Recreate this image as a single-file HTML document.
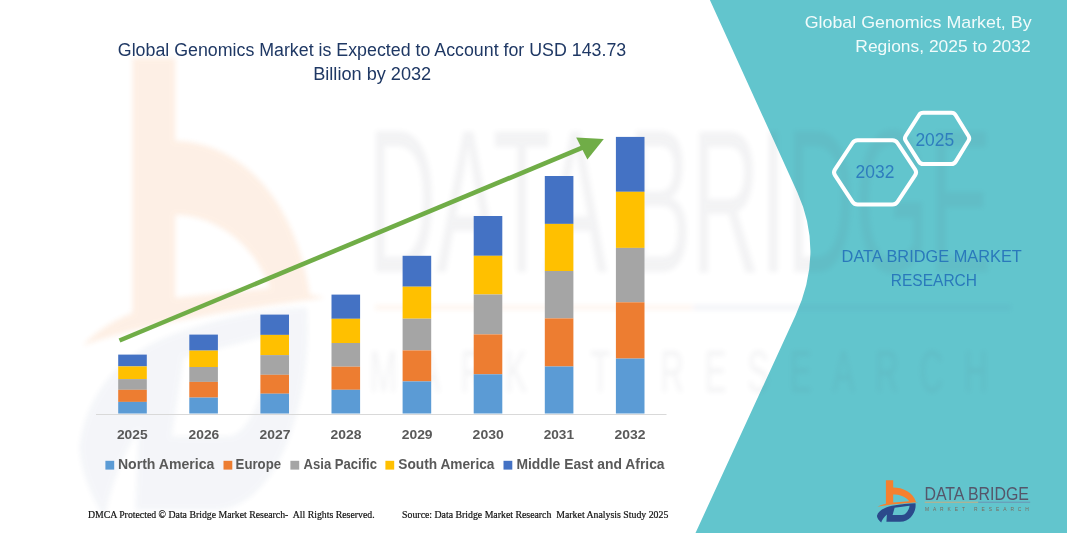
<!DOCTYPE html>
<html lang="en">
<head>
<meta charset="utf-8">
<title>Global Genomics Market</title>
<style>
html,body{margin:0;padding:0;background:#fff;}
body{width:1067px;height:533px;overflow:hidden;font-family:"Liberation Sans",sans-serif;}
svg{display:block;}
text{font-family:"Liberation Sans",sans-serif;}
.serif text, text.serif{font-family:"Liberation Serif",serif;}
</style>
</head>
<body>
<svg width="1067" height="533" viewBox="0 0 1067 533">
<defs>
  <path id="logo-b" fill="#F5802E" fill-rule="evenodd" d="M9.9,0.3 L17.2,0.3 L17.2,7.4 C26.5,7.5 37,11.5 40,22 L42.6,22.3 C30,23.2 12,24.6 1.5,26.7 C4,25.2 7,24.3 9.9,23.7 Z M17.2,14.4 C22.5,14.4 30,16.3 33.2,21.2 L17.2,22.5 Z"/>
  <path id="logo-bw" fill="#F47B20" fill-rule="evenodd" d="M9.9,0.3 L17.2,0.3 L17.2,7.9 C26.5,8 37,12 40,22 L42.6,22.3 C30,23.2 12,24.6 1.5,26.7 C4,25.2 7,24.3 9.9,23.7 Z M17.2,14.7 C22.5,14.7 30,16.6 33.2,21.4 L17.2,22.3 Z"/>
  <path id="logo-d" fill="#2B4A8B" fill-rule="evenodd" d="M0.9,36 C2,31 8,27.5 16,25.8 C25,24 33,23.3 39.5,23.2 C40.5,30 36,41.5 24,41.8 L10.4,41.8 L10.9,34.5 C8,37 6,40 5.2,42.6 C3,40.5 1.2,38.5 0.9,36 Z M18.6,27.8 L33.6,25.7 C33,30 30,35 26,35 L16.6,35 Z"/>
  <g id="logo-text">
    <text x="48.4" y="19.6" font-size="19" textLength="104.6" lengthAdjust="spacingAndGlyphs" fill="#55566a">DATA BRIDGE</text>
    <rect x="48.7" y="21.8" width="53.5" height="0.7" fill="#F4A460"/>
    <rect x="102.2" y="21.8" width="52" height="0.7" fill="#6f7fa8"/>
    <text x="48.9" y="31" font-size="4.9" textLength="104" lengthAdjust="spacing" fill="#7a6a5e">MARKET RESEARCH</text>
  </g>
  <filter id="wmblur" x="-5%" y="-5%" width="110%" height="110%"><feGaussianBlur stdDeviation="2.6"/></filter>
</defs>

<rect width="1067" height="533" fill="#ffffff"/>

<!-- teal panel -->
<path d="M709.9,0 L797.2,192 Q824.6,252.3 795.3,316 L695.5,533 L1067,533 L1067,0 Z" fill="#62C5CD"/>

<!-- watermark -->
<g opacity="0.115" filter="url(#wmblur)">
  <g transform="translate(74,54.7) scale(5.9,10.9)"><use href="#logo-bw"/></g>
</g>
<g opacity="0.048" filter="url(#wmblur)">
  <g transform="translate(74,54.7) scale(5.9,10.9)"><use href="#logo-d"/></g>
</g>
<g opacity="0.065" filter="url(#wmblur)">
  <g transform="translate(368,272) scale(6,10.7)">
    <text x="0" y="0" font-size="19" textLength="104" lengthAdjust="spacingAndGlyphs" fill="#55566a">DATA BRIDGE</text>
    <text x="0.3" y="11.2" font-size="5.5" textLength="103" lengthAdjust="spacing" fill="#55566a">MARKET RESEARCH</text>
  </g>
  <rect x="375" y="305" width="318" height="5" fill="#F47B20"/>
  <rect x="693" y="305" width="318" height="5" fill="#4a5f9a"/>
</g>

<!-- chart -->
<rect x="96" y="414" width="570.5" height="1" fill="#D9D9D9"/>
<rect x="118.2" y="354.6" width="28.6" height="11.8" fill="#4472C4"/>
<rect x="118.2" y="366.4" width="28.6" height="12.7" fill="#FFC000"/>
<rect x="118.2" y="379.1" width="28.6" height="10.7" fill="#A5A5A5"/>
<rect x="118.2" y="389.8" width="28.6" height="12.1" fill="#ED7D31"/>
<rect x="118.2" y="401.9" width="28.6" height="11.6" fill="#5B9BD5"/>
<rect x="189.3" y="334.6" width="28.6" height="16.0" fill="#4472C4"/>
<rect x="189.3" y="350.6" width="28.6" height="16.4" fill="#FFC000"/>
<rect x="189.3" y="367.0" width="28.6" height="14.9" fill="#A5A5A5"/>
<rect x="189.3" y="381.9" width="28.6" height="15.7" fill="#ED7D31"/>
<rect x="189.3" y="397.6" width="28.6" height="15.9" fill="#5B9BD5"/>
<rect x="260.4" y="314.6" width="28.6" height="20.3" fill="#4472C4"/>
<rect x="260.4" y="334.9" width="28.6" height="20.2" fill="#FFC000"/>
<rect x="260.4" y="355.1" width="28.6" height="19.7" fill="#A5A5A5"/>
<rect x="260.4" y="374.8" width="28.6" height="18.9" fill="#ED7D31"/>
<rect x="260.4" y="393.7" width="28.6" height="19.8" fill="#5B9BD5"/>
<rect x="331.5" y="294.6" width="28.6" height="24.2" fill="#4472C4"/>
<rect x="331.5" y="318.8" width="28.6" height="24.2" fill="#FFC000"/>
<rect x="331.5" y="343.0" width="28.6" height="23.7" fill="#A5A5A5"/>
<rect x="331.5" y="366.7" width="28.6" height="23.1" fill="#ED7D31"/>
<rect x="331.5" y="389.8" width="28.6" height="23.7" fill="#5B9BD5"/>
<rect x="402.6" y="255.8" width="28.6" height="30.9" fill="#4472C4"/>
<rect x="402.6" y="286.7" width="28.6" height="32.0" fill="#FFC000"/>
<rect x="402.6" y="318.7" width="28.6" height="31.7" fill="#A5A5A5"/>
<rect x="402.6" y="350.4" width="28.6" height="31.0" fill="#ED7D31"/>
<rect x="402.6" y="381.4" width="28.6" height="32.1" fill="#5B9BD5"/>
<rect x="473.7" y="216.0" width="28.6" height="39.8" fill="#4472C4"/>
<rect x="473.7" y="255.8" width="28.6" height="38.7" fill="#FFC000"/>
<rect x="473.7" y="294.5" width="28.6" height="39.9" fill="#A5A5A5"/>
<rect x="473.7" y="334.4" width="28.6" height="39.9" fill="#ED7D31"/>
<rect x="473.7" y="374.3" width="28.6" height="39.2" fill="#5B9BD5"/>
<rect x="544.8" y="176.0" width="28.6" height="47.9" fill="#4472C4"/>
<rect x="544.8" y="223.9" width="28.6" height="47.1" fill="#FFC000"/>
<rect x="544.8" y="271.0" width="28.6" height="47.4" fill="#A5A5A5"/>
<rect x="544.8" y="318.4" width="28.6" height="48.1" fill="#ED7D31"/>
<rect x="544.8" y="366.5" width="28.6" height="47.0" fill="#5B9BD5"/>
<rect x="615.9" y="136.9" width="28.6" height="54.9" fill="#4472C4"/>
<rect x="615.9" y="191.8" width="28.6" height="56.1" fill="#FFC000"/>
<rect x="615.9" y="247.9" width="28.6" height="54.4" fill="#A5A5A5"/>
<rect x="615.9" y="302.3" width="28.6" height="56.3" fill="#ED7D31"/>
<rect x="615.9" y="358.6" width="28.6" height="54.9" fill="#5B9BD5"/>
<g font-size="13.6" font-weight="bold" fill="#595959">
<text x="116.9" y="438.8" textLength="30.7" lengthAdjust="spacingAndGlyphs">2025</text>
<text x="188.6" y="438.8" textLength="30.7" lengthAdjust="spacingAndGlyphs">2026</text>
<text x="259.5" y="438.8" textLength="30.9" lengthAdjust="spacingAndGlyphs">2027</text>
<text x="330.6" y="438.8" textLength="30.9" lengthAdjust="spacingAndGlyphs">2028</text>
<text x="401.7" y="438.8" textLength="30.9" lengthAdjust="spacingAndGlyphs">2029</text>
<text x="472.6" y="438.8" textLength="31.2" lengthAdjust="spacingAndGlyphs">2030</text>
<text x="543.7" y="438.8" textLength="30.3" lengthAdjust="spacingAndGlyphs">2031</text>
<text x="614.5" y="438.8" textLength="31.0" lengthAdjust="spacingAndGlyphs">2032</text>
</g>
<g font-size="13.8" font-weight="bold" fill="#595959">
<rect x="105.4" y="460.8" width="8.8" height="8.8" fill="#5B9BD5"/>
<text x="117.9" y="469.2" textLength="96.5" lengthAdjust="spacingAndGlyphs">North America</text>
<rect x="223.5" y="460.8" width="8.8" height="8.8" fill="#ED7D31"/>
<text x="235.6" y="469.2" textLength="45.5" lengthAdjust="spacingAndGlyphs">Europe</text>
<rect x="290.4" y="460.8" width="8.8" height="8.8" fill="#A5A5A5"/>
<text x="303.6" y="469.2" textLength="73.4" lengthAdjust="spacingAndGlyphs">Asia Pacific</text>
<rect x="385.4" y="460.8" width="8.8" height="8.8" fill="#FFC000"/>
<text x="398.3" y="469.2" textLength="96.2" lengthAdjust="spacingAndGlyphs">South America</text>
<rect x="503.5" y="460.8" width="8.8" height="8.8" fill="#4472C4"/>
<text x="516.4" y="469.2" textLength="148.2" lengthAdjust="spacingAndGlyphs">Middle East and Africa</text>
</g>

<!-- trend arrow -->
<line x1="119.5" y1="340.5" x2="583" y2="147.4" stroke="#70AD47" stroke-width="4.6"/>
<polygon points="576.2,137.5 603.8,139.1 587.4,159.4" fill="#70AD47"/>

<!-- titles -->
<g font-size="17.6" fill="#1F3864">
<text x="117.8" y="55.8" textLength="508.4" lengthAdjust="spacingAndGlyphs">Global Genomics Market is Expected to Account for USD 143.73</text>
<text x="313.2" y="79.8" textLength="118" lengthAdjust="spacingAndGlyphs">Billion by 2032</text>
</g>
<g font-size="16.4" fill="#F1FBFB">
<text x="804.7" y="27.6" textLength="226.9" lengthAdjust="spacingAndGlyphs">Global Genomics Market, By</text>
<text x="855.3" y="52.2" textLength="175.4" lengthAdjust="spacingAndGlyphs">Regions, 2025 to 2032</text>
</g>

<!-- hexagons -->
<g fill="none" stroke="#ffffff" stroke-width="4" stroke-linejoin="round">
<path d="M834.9,175.1 Q833.1,172.4 834.9,169.7 L852.5,143.0 Q854.3,140.3 857.5,140.3 L892.5,140.3 Q895.7,140.3 897.5,143.0 L915.2,169.7 Q917.0,172.4 915.2,175.1 L897.5,201.8 Q895.7,204.5 892.5,204.5 L857.5,204.5 Q854.3,204.5 852.5,201.8 Z"/>
<path d="M905.7,140.8 Q904.2,138.4 905.7,136.0 L918.9,115.2 Q920.4,112.8 923.2,112.8 L951.4,112.8 Q954.2,112.8 955.7,115.2 L968.5,136.0 Q970.0,138.4 968.5,140.8 L955.7,161.6 Q954.2,164.0 951.4,164.0 L923.2,164.0 Q920.4,164.0 918.9,161.6 Z"/>
</g>
<g font-size="18.2" fill="#2E7DBE">
<text x="855.6" y="177.7" textLength="38.8" lengthAdjust="spacingAndGlyphs">2032</text>
<text x="915.4" y="145.6" textLength="38.8" lengthAdjust="spacingAndGlyphs">2025</text>
</g>

<g font-size="16.3" fill="#2A79BB">
<text x="841.6" y="262.2" textLength="180.2" lengthAdjust="spacingAndGlyphs">DATA BRIDGE MARKET</text>
<text x="890.8" y="286.2" textLength="86.2" lengthAdjust="spacingAndGlyphs">RESEARCH</text>
</g>

<!-- footer -->
<g class="serif" font-size="9.8" fill="#111111" stroke="#111111" stroke-width="0.2">
<text class="serif" x="87.9" y="517.5" textLength="286.7" lengthAdjust="spacingAndGlyphs" xml:space="preserve">DMCA Protected © Data Bridge Market Research-  All Rights Reserved.</text>
<text class="serif" x="402.1" y="517.5" textLength="266.2" lengthAdjust="spacingAndGlyphs" xml:space="preserve">Source: Data Bridge Market Research  Market Analysis Study 2025</text>
</g>

<!-- logo -->
<g transform="translate(876,480)"><use href="#logo-b"/><use href="#logo-d"/><use href="#logo-text"/></g>
</svg>
</body>
</html>
